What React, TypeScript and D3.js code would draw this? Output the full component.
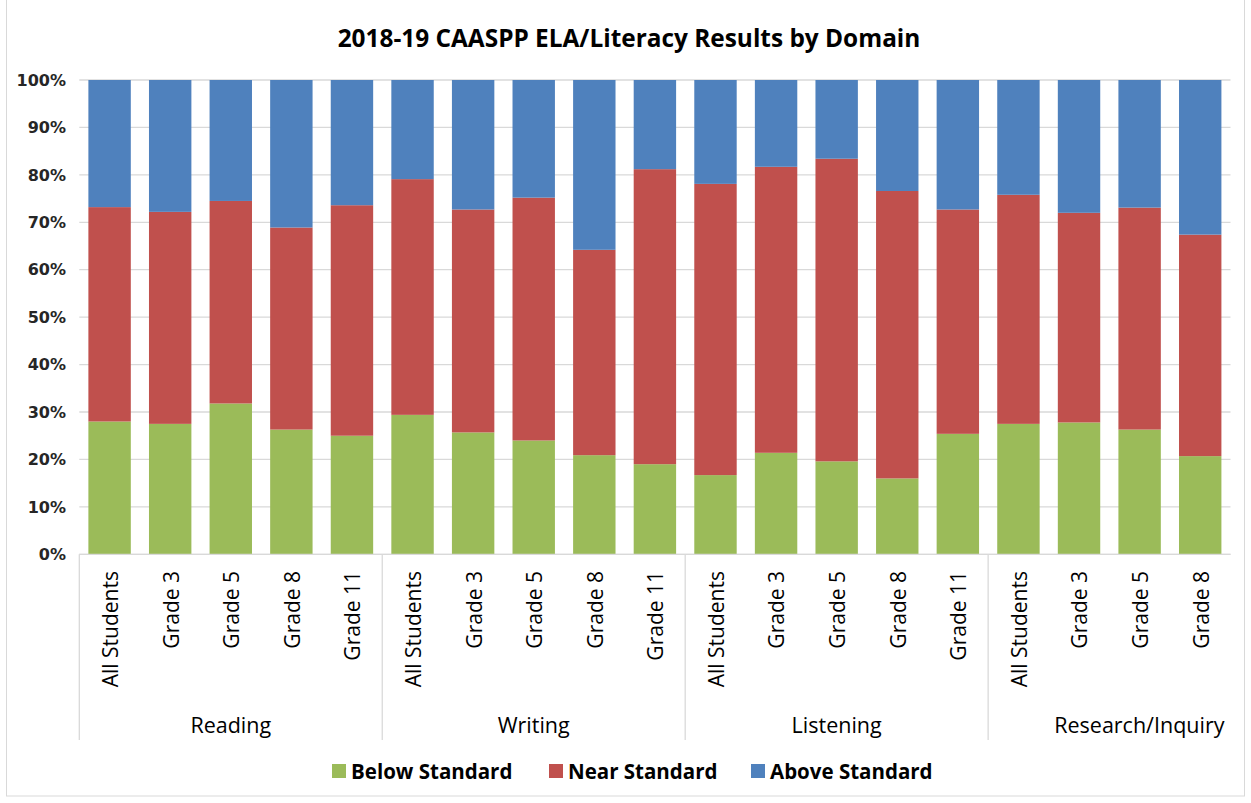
import React from "react";
import * as d3 from "d3";

const groups = ["Reading", "Writing", "Listening", "Research/Inquiry"];
const groupSizes = [5, 5, 5, 4];
const subLabels = [
  "All Students", "Grade 3", "Grade 5", "Grade 8", "Grade 11",
  "All Students", "Grade 3", "Grade 5", "Grade 8", "Grade 11",
  "All Students", "Grade 3", "Grade 5", "Grade 8", "Grade 11",
  "All Students", "Grade 3", "Grade 5", "Grade 8",
];
const belowStandard = [28.0, 27.5, 31.8, 26.3, 25.0, 29.4, 25.7, 24.0, 20.9, 19.0, 16.7, 21.4, 19.6, 16.0, 25.4, 27.5, 27.8, 26.3, 20.7];
const nearStandard = [45.2, 44.7, 42.7, 42.6, 48.6, 49.7, 47.0, 51.2, 43.3, 62.2, 61.4, 60.3, 63.8, 60.6, 47.3, 48.3, 44.2, 46.8, 46.7];
const aboveStandard = [26.8, 27.8, 25.5, 31.1, 26.4, 20.9, 27.3, 24.8, 35.8, 18.8, 21.9, 18.3, 16.6, 23.4, 27.3, 24.2, 28.0, 26.9, 32.6];
const seriesNames = ["Below Standard", "Near Standard", "Above Standard"];
const seriesColors = ["#9BBB59", "#C0504D", "#4F81BD"];
const yTicks = [0, 10, 20, 30, 40, 50, 60, 70, 80, 90, 100];

const W = 1251;
const H = 803;
const plotLeft = 79.3;
const plotRight = 1230.5;
const plotTop = 80;
const plotBottom = 554.3;

export default function App() {
  const ids = subLabels.map((_, i) => String(i));
  const x = d3.scaleBand<string>().domain(ids).range([plotLeft, plotRight]).paddingInner(0.3).paddingOuter(0.15);
  const y = d3.scaleLinear().domain([0, 100]).range([plotBottom, plotTop]);

  const rows = subLabels.map((_, i) => ({
    id: String(i),
    "Below Standard": belowStandard[i],
    "Near Standard": nearStandard[i],
    "Above Standard": aboveStandard[i],
  }));
  const stacked = d3.stack<any>().keys(seriesNames)(rows);

  const step = x.step();
  const groupEdges: number[] = [];
  let c = 0;
  groupSizes.forEach((n, gi) => {
    const startIdx = c;
    c += n;
    const start = gi === 0 ? plotLeft : (x(String(startIdx))! - step * x.paddingInner() / 2);
    const end = c === subLabels.length ? plotRight : (x(String(c))! - step * x.paddingInner() / 2);
    groupEdges.push(start);
    if (gi === groupSizes.length - 1) groupEdges.push(end);
  });

  const groupRanges: [number, number][] = [];
  for (let gi = 0; gi < groupSizes.length; gi++) groupRanges.push([groupEdges[gi], groupEdges[gi + 1]]);

  const legendItems = [
    { name: seriesNames[0], color: seriesColors[0], x: 332 },
    { name: seriesNames[1], color: seriesColors[1], x: 549 },
    { name: seriesNames[2], color: seriesColors[2], x: 751 },
  ];

  return (
    <svg width={W} height={H} style={{ position: "absolute", left: 0, top: 0, background: "#fff" }}>
      <rect x={6.5} y={-1} width={1238} height={797} fill="#fff" stroke="#d9d9d9" strokeWidth={1} />
      <text x={629} y={47} textAnchor="middle" fontFamily="'Open Sans', sans-serif" fontWeight="bold" fontSize={24.4} fill="#000">
        2018-19 CAASPP ELA/Literacy Results by Domain
      </text>

      {yTicks.map((t) => (
        <g key={t}>
          <line x1={plotLeft} x2={plotRight} y1={y(t)} y2={y(t)} stroke="#d9d9d9" strokeWidth={1.3} />
          <text x={66} y={y(t)} dy="0.36em" textAnchor="end" fontFamily="'DejaVu Sans', sans-serif" fontWeight="bold" fontSize={16} fill="#262626">
            {t}%
          </text>
        </g>
      ))}

      {stacked.map((s, si) => (
        <g key={si} fill={seriesColors[si]}>
          {s.map((d, i) => (
            <rect key={i} x={x(String(i))} width={x.bandwidth()} y={y(d[1])} height={y(d[0]) - y(d[1])} />
          ))}
        </g>
      ))}

      {groupEdges.map((gx, i) =>
        i < groupEdges.length - 1 ? (
          <line key={i} x1={gx} x2={gx} y1={plotBottom} y2={740} stroke="#d9d9d9" strokeWidth={1.3} />
        ) : null
      )}
      <line x1={plotLeft} x2={plotRight} y1={plotBottom} y2={plotBottom} stroke="#d9d9d9" strokeWidth={1.3} />

      {subLabels.map((lab, i) => {
        const cx = x(String(i))! + x.bandwidth() / 2;
        return (
          <text key={i} transform={`translate(${cx},571) rotate(-90)`} dy="0.4em" textAnchor="end" fontFamily="'Open Sans', sans-serif" fontSize={21} fill="#000">
            {lab}
          </text>
        );
      })}

      {groups.map((g, gi) => {
        const last = gi === groups.length - 1;
        return (
          <text key={g} x={last ? groupRanges[gi][1] - 6 : (groupRanges[gi][0] + groupRanges[gi][1]) / 2} y={733} textAnchor={last ? "end" : "middle"} fontFamily="'Open Sans', sans-serif" fontSize={21.5} fill="#000">
            {g}
          </text>
        );
      })}

      {legendItems.map((it) => (
        <g key={it.name}>
          <rect x={it.x} y={764} width={14} height={14} fill={it.color} />
          <text x={it.x + 19} y={779} fontFamily="'Open Sans', sans-serif" fontWeight="bold" fontSize={20.5} fill="#000">
            {it.name}
          </text>
        </g>
      ))}
    </svg>
  );
}
